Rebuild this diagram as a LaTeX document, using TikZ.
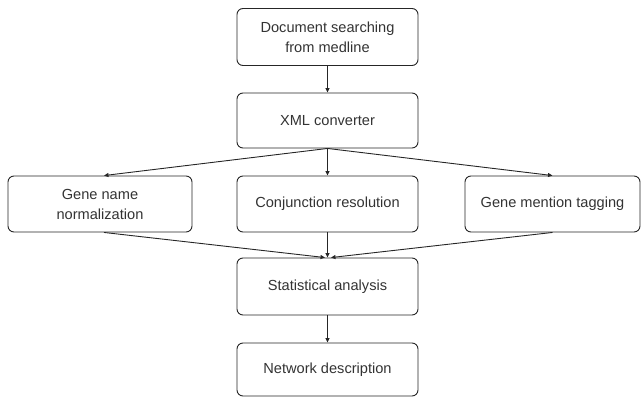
\documentclass[tikz,border=0pt]{standalone}
\usepackage{fontspec}
\setmainfont{Liberation Sans}
\usetikzlibrary{arrows.meta,calc}
\begin{document}
\begin{tikzpicture}[x=1pt,y=-1pt,
  box/.style={draw=black!85, line width=0.9pt, rounded corners=6pt, inner sep=0pt,
    align=center, text=black!80, font=\fontsize{14.6pt}{20pt}\selectfont},
  conn/.style={draw=black!85, line width=0.9pt, -{Triangle[length=4.5pt,width=4pt]}}]
\useasboundingbox (0,0) rectangle (641,397);
\node[box, minimum width=181pt, minimum height=57pt] (doc) at (327.5,37) {Document searching\\from medline};
\node[box, minimum width=181pt, minimum height=55pt] (xml) at (327.5,120.5) {XML converter};
\node[box, minimum width=184pt, minimum height=56pt] (gene) at (100,204) {Gene name\\normalization};
\node[box, minimum width=181pt, minimum height=56pt] (conj) at (327.5,204) {Conjunction resolution};
\node[box, minimum width=175pt, minimum height=56pt] (tag) at (552.5,204) {Gene mention tagging};
\node[box, minimum width=181pt, minimum height=57pt] (stat) at (327.5,286.5) {Statistical analysis};
\node[box, minimum width=181pt, minimum height=53pt] (net) at (327.5,369.5) {Network description};
\draw[conn] (doc.south) -- (xml.north);
\draw[conn] (xml.south) -- ($(gene.north)+(4,0)$);
\draw[conn] (xml.south) -- (conj.north);
\draw[conn] (xml.south) -- (tag.north);
\draw[conn] ($(gene.south)+(4,0)$) -- ($(stat.north)+(-2.5,0)$);
\draw[conn] (conj.south) -- (stat.north);
\draw[conn] (tag.south) -- ($(stat.north)+(3.5,0)$);
\draw[conn] (stat.south) -- (net.north);
\end{tikzpicture}
\end{document}
